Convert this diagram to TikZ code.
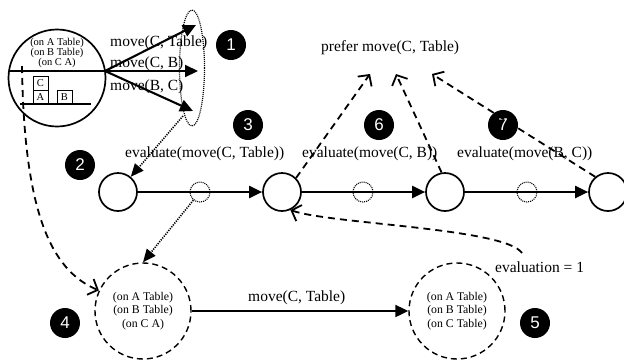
\documentclass[tikz,border=0pt]{standalone}
\usepackage{fontspec}
\setmainfont{Liberation Serif}
\newfontfamily\badgefont{Liberation Sans}
\usetikzlibrary{arrows.meta,shapes.geometric}
\begin{document}
\begin{tikzpicture}[x=1pt,y=-1pt,
  lbl/.style={font=\fontsize{15.5}{18}\selectfont, inner sep=0pt},
  badge/.style={circle, fill=black, minimum size=30pt, inner sep=0pt, text=white, font=\badgefont\fontsize{17}{17}\selectfont},
  state/.style={circle, draw, line width=1.7pt, minimum size=38pt, inner sep=0pt},
  midst/.style={circle, draw, dash pattern=on 1pt off 1pt, line width=1.1pt, minimum size=20pt, inner sep=0pt},
  bigstate/.style={circle, draw, dash pattern=on 6pt off 4pt, line width=1.4pt, minimum size=96pt, inner sep=0pt, align=center, font=\fontsize{11.8}{13.5}\selectfont},
  blk/.style={draw, line width=0.8pt, minimum width=15pt, minimum height=14pt, inner sep=0pt, font=\fontsize{10.5}{10.5}\selectfont},
  solidarr/.style={line width=2.1pt, -{Triangle[length=13pt,width=12pt]}},
  dasharr/.style={line width=1.8pt, dash pattern=on 7pt off 5pt, -{Straight Barb[length=8pt,width=17pt]}},
  dotarr/.style={dash pattern=on 1.2pt off 1.2pt, line width=1.6pt, -{Triangle[length=13pt,width=11pt]}}
]
\useasboundingbox (0,0) rectangle (624,360);

% initial state picture
\node[circle, draw, line width=1.7pt, minimum size=97pt, inner sep=0pt] (init) at (57,78) {};
\coordinate (src) at (105,71);
\coordinate (lft) at (9,71);
\draw[line width=1.7pt] (lft) -- (src);
\node[align=center, inner sep=0pt, font=\fontsize{10.5}{10}\selectfont] (itxt) at (57,53) {(on A Table)\\(on B Table)\\(on C A)};
\node[blk] (bC) at (40.5,83) {C};
\node[blk] (bA) at (40.5,97) {A};
\node[blk] (bB) at (64.5,97) {B};
\coordinate (g1) at (20,104);
\coordinate (g2) at (91,104);
\draw[line width=1.7pt] (g1) -- (g2);

% options ellipse
\node[ellipse, draw, dash pattern=on 1pt off 1pt, line width=1.2pt, minimum width=25pt, minimum height=116pt, inner sep=0pt] (opts) at (192,68) {};
\coordinate (t1) at (196,25);
\coordinate (t2) at (198,71);
\coordinate (t3) at (193,111);
\draw[solidarr] (src) -- (t1);
\draw[solidarr] (src) -- (t2);
\draw[solidarr] (src) -- (t3);
\node[lbl, anchor=west] (m1) at (110,43) {move(C, Table)};
\node[lbl, anchor=west] (m2) at (110,64) {move(C, B)};
\node[lbl, anchor=west] (m3) at (110,87) {move(B, C)};

% badges
\node[badge] (n1) at (231,45) {1};
\node[badge] (n2) at (80,165) {2};
\node[badge] (n3) at (248,125) {3};
\node[badge] (n4) at (65,323) {4};
\node[badge] (n5) at (535,323) {5};
\node[badge] (n6) at (379,125) {6};
\node[badge] (n7) at (503,125) {7};

% main row
\node[state] (s1) at (118,192) {};
\node[state] (s2) at (282,192) {};
\node[state] (s3) at (445,192) {};
\node[state] (s4) at (608,192) {};
\draw[solidarr] (s1) -- (s2);
\draw[solidarr] (s2) -- (s3);
\draw[solidarr] (s3) -- (s4);
\node[midst] (d1) at (200,192) {};
\node[midst] (d2) at (363,192) {};
\node[midst] (d3) at (527,192) {};
\node[lbl, anchor=west] (e1) at (125,154) {evaluate(move(C, Table))};
\node[lbl, anchor=west] (e2) at (302,154) {evaluate(move(C, B))};
\node[lbl, anchor=west] (e3) at (457,154) {evaluate(move(B, C))};

% preference
\node[lbl, anchor=west] (pref) at (321,48) {prefer move(C, Table)};
\coordinate (p1) at (370,74);
\coordinate (p2) at (396,74);
\coordinate (p3) at (432,74);
\draw[dasharr] (s2.45) -- (p1);
\draw[dasharr] (s3.100) -- (p2);
\draw[dasharr] (s4.130) -- (p3);

% lower states
\node[bigstate] (b4) at (143,311) {(on A Table)\\(on B Table)\\(on C A)};
\node[bigstate] (b5) at (457,311) {(on A Table)\\(on B Table)\\(on C Table)};
\draw[solidarr] (b4) -- (b5);
\node[lbl, anchor=west] (mv) at (248,298) {move(C, Table)};

% dotted links
\coordinate (eb) at (183,116);
\draw[dotarr] (eb) -- (s1.50);
\draw[dotarr] (d1) -- (b4.north);

% dashed curves
\coordinate (ds) at (22,66);
\draw[dasharr] (ds) .. controls (24,210) and (50,270) .. (b4.155);
\node[lbl, anchor=west] (ev) at (495,267) {evaluation = 1};
\coordinate (evs) at (522,253);
\draw[dasharr] (evs) .. controls (505,228) and (330,224) .. (s2.-65);
\end{tikzpicture}
\end{document}
